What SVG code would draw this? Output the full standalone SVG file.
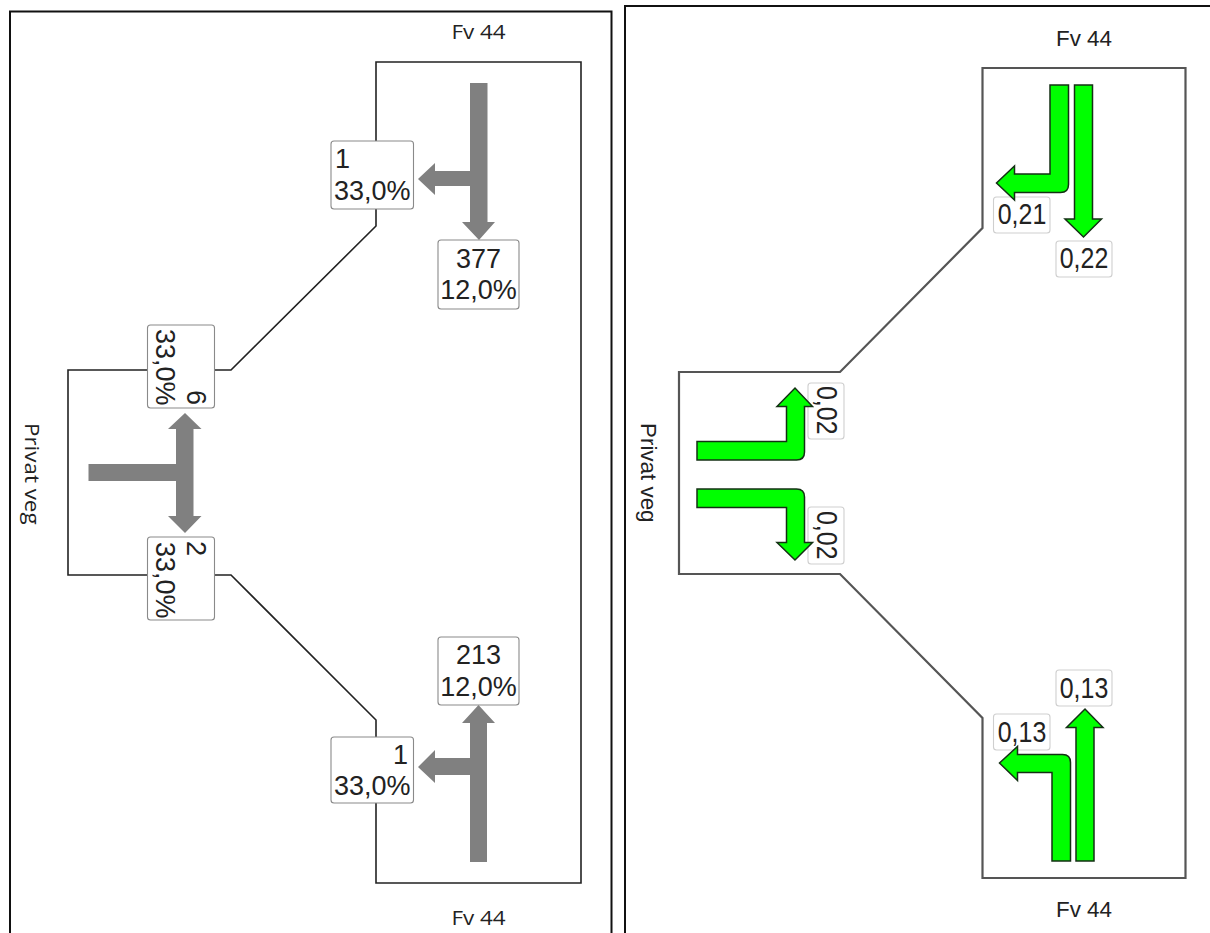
<svg xmlns="http://www.w3.org/2000/svg" width="1210" height="933" viewBox="0 0 1210 933">
<style>
.frame{fill:none;stroke:#111;stroke-width:2}
.roadL{fill:none;stroke:#222;stroke-width:1.6}
.roadR{fill:none;stroke:#555;stroke-width:2.2}
.box{fill:#fff;stroke:#8a8a8a;stroke-width:1.1}
.boxR{fill:#fff;stroke:#cfcfcf;stroke-width:1.1}
.gray{fill:#808080;stroke:none}
.green{fill:#00ff00;stroke:#143014;stroke-width:1.5}
text{font-family:"Liberation Sans",Arial,sans-serif;fill:#222}
.n{font-size:27px}
.r{font-size:29px}
.m{text-anchor:middle}
.e{text-anchor:end}
.lab{font-family:"Open Sans","Liberation Sans",sans-serif;font-size:20px}
.labR{font-size:22.4px}
</style>
<rect width="1210" height="933" fill="#fff"/>
<g id="frames">
<path class="frame" d="M10 940V11.500H611.500V940"/>
<path class="frame" d="M625 940V6H1215"/>
</g>
<g id="roads">
<path id="road-left" class="roadL" d="M376 62H581V883H376V720L231 575H68V370H231L376 226Z"/>
<path id="road-right" class="roadR" d="M982.500 68H1185.500V878H982.500V718L840 574H679V372H840L982.500 228Z"/>
</g>
<g id="node-left-north-turn"><rect class="box" x="331" y="141" width="82.500" height="68" rx="3"/><text class="n" x="335" y="168">1</text><text class="n" x="334" y="200">33,0%</text></g>
<g id="node-left-north-through"><rect class="box" x="438" y="240" width="81" height="69" rx="3"/><text class="n m" x="478.500" y="268">377</text><text class="n m" x="478.500" y="299">12,0%</text></g>
<g id="node-left-west-up"><rect class="box" x="147.500" y="325" width="67" height="83" rx="3"/><text class="n" transform="translate(156 329) rotate(90)">33,0%</text><text class="n e" transform="translate(186.500 405) rotate(90)">6</text></g>
<g id="node-left-west-down"><rect class="box" x="147.500" y="537" width="67" height="83" rx="3"/><text class="n" transform="translate(186.500 541) rotate(90)">2</text><text class="n" transform="translate(156 542) rotate(90)">33,0%</text></g>
<g id="node-left-south-through"><rect class="box" x="438" y="637" width="81" height="68" rx="3"/><text class="n m" x="478.500" y="664">213</text><text class="n m" x="478.500" y="696">12,0%</text></g>
<g id="node-left-south-turn"><rect class="box" x="331" y="737" width="82.500" height="66" rx="3"/><text class="n e" x="408" y="764">1</text><text class="n" x="334" y="795">33,0%</text></g>
<g id="node-right-north-turn"><rect class="boxR" x="993.500" y="197" width="56.500" height="36" rx="3"/><text class="r m" transform="translate(1022 224) scale(.86 1)">0,21</text></g>
<g id="node-right-north-through"><rect class="boxR" x="1056" y="241" width="56" height="36" rx="3"/><text class="r m" transform="translate(1084 268) scale(.86 1)">0,22</text></g>
<g id="node-right-west-up"><rect class="boxR" x="808" y="383" width="36" height="56" rx="3"/><text class="r" transform="translate(816.500 386) rotate(90) scale(.86 1)">0,02</text></g>
<g id="node-right-west-down"><rect class="boxR" x="808" y="507" width="36" height="57" rx="3"/><text class="r" transform="translate(816.500 511) rotate(90) scale(.86 1)">0,02</text></g>
<g id="node-right-south-through"><rect class="boxR" x="1056" y="670" width="56" height="36" rx="3"/><text class="r m" transform="translate(1084 698) scale(.86 1)">0,13</text></g>
<g id="node-right-south-turn"><rect class="boxR" x="993.500" y="714" width="56.500" height="36" rx="3"/><text class="r m" transform="translate(1022 742) scale(.86 1)">0,13</text></g>
<g id="connectors">
<path class="gray" d="M470 83H487.500V222H495L479 240L462 222H470V186H435V195L418 179L435 163V171H470Z"/>
<path class="gray" d="M88.500 464H176V429H168L185 413L201.500 429H193.500V516H201.500L185 533L168 516H176V481H88.500Z"/>
<path class="gray" d="M470 862H487V723H495L478.500 705L462 723H470V758H435V750L418 767L435 783V775H470Z"/>
<path class="green" d="M1050 85H1068.500V184.500Q1068.500 192.500 1060.500 192.500H1014.500V200L996.500 183L1014.500 166V174H1050Z"/>
<path class="green" d="M1074.500 85H1092.500V219H1101.500L1083.500 237L1065 219H1074.500Z"/>
<path class="green" d="M697 441.500H786.500V406.500H777L795 388L812.500 406.500H804.500V452Q804.500 460 796.500 460H697Z"/>
<path class="green" d="M697 489H796.500Q804.500 489 804.500 497V542.500H812.500L795 560L777 542.500H786.500V507.500H697Z"/>
<path class="green" d="M1052 861H1070.500V762.500Q1070.500 754.500 1062.500 754.500H1017.500V746.500L999.500 763L1017.500 780.500V772.500H1052Z"/>
<path class="green" d="M1076 861H1094V727.500H1103L1085 709L1066.500 727.500H1076Z"/>
</g>
<g id="labels">
<text class="lab m" transform="translate(478.500 39) scale(1.12 1)">Fv 44</text>
<text class="lab m" transform="translate(478.500 925) scale(1.12 1)">Fv 44</text>
<text class="lab" transform="translate(24.500 423) rotate(90) scale(1.12 1)">Privat veg</text>
<text class="labR m" x="1084" y="46">Fv 44</text>
<text class="labR m" x="1084" y="917">Fv 44</text>
<text class="labR" transform="translate(640.500 423) rotate(90)">Privat veg</text>
</g>
</svg>
